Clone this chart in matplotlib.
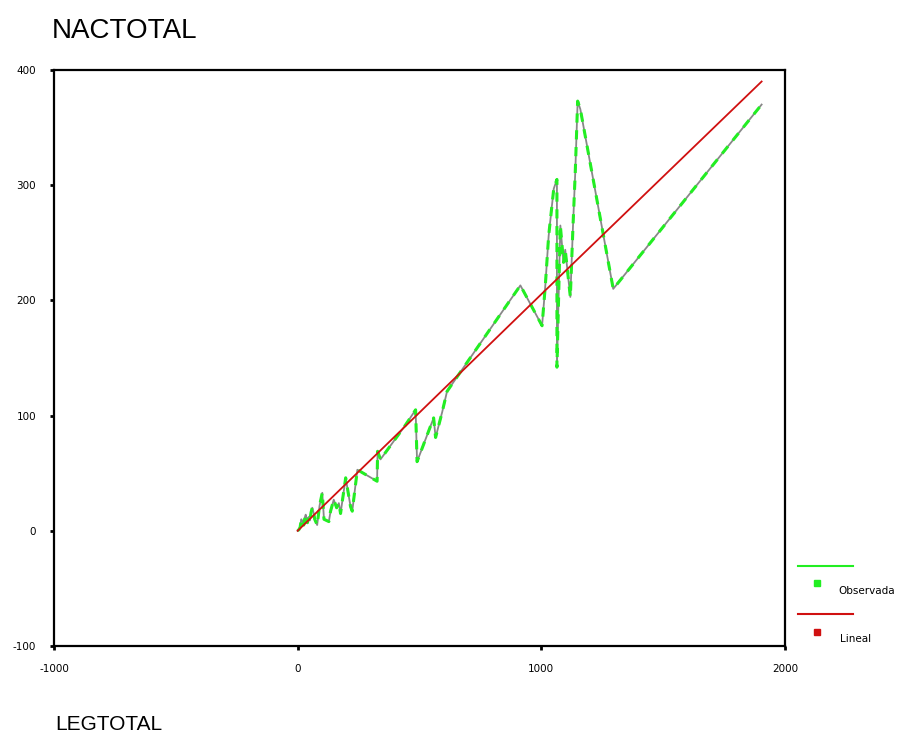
import numpy as np
import matplotlib.pyplot as plt
from matplotlib.lines import Line2D

obs_x = [0, 5, 10, 15, 20, 25, 30, 33, 40, 45, 50, 55, 60, 66, 70, 80, 90, 101, 108,
         128, 135, 148, 160, 169, 176, 197, 217, 224, 245, 326, 328, 340, 443, 484,
         490, 558, 566, 593, 613, 914, 1003, 1016, 1030, 1051, 1064, 1064, 1078,
         1091, 1098, 1119, 1130, 1139, 1149, 1160, 1295, 1904]
obs_y = [0, 1, 3, 10, 8, 5, 12, 14, 7, 12, 9, 16, 20, 15, 10, 5, 22, 33, 10,
         8, 17, 27, 20, 24, 15, 46, 21, 17, 53, 43, 69, 62, 92, 105,
         60, 98, 81, 103, 121, 213, 178, 212, 256, 297, 305, 142, 265,
         233, 244, 203, 265, 310, 373, 366, 210, 370]

# linear fit line
fit_x = [0, 1008, 1904]
fit_y = [0, 207, 390]

xticks = [-1000, 0, 1000, 2000]
yticks = [-100, 0, 100, 200, 300, 400]

plt.rcParams['font.family'] = ['Liberation Sans', 'DejaVu Sans']
plt.rcParams['axes.unicode_minus'] = False

fig = plt.figure(figsize=(9.09, 7.36), dpi=100)
ax = fig.add_axes([0.0594, 0.1223, 0.8042, 0.7826])

green = '#22ee22'
ax.plot(obs_x, obs_y, color='#888888', lw=1.3, zorder=2)
ax.plot(obs_x, obs_y, color=green, lw=2.2, dashes=(3, 2.5), zorder=3)
ax.plot(fit_x, fit_y, color='#d01010', lw=1.3, zorder=4)

ax.set_xlim(-1000, 2000)
ax.set_ylim(-100, 400)
ax.set_xticks(xticks)
ax.set_yticks(yticks)
ax.tick_params(length=3, width=2, direction='out')
ax.tick_params(axis='x', pad=10)
ax.tick_params(axis='y', pad=10)
for lab in ax.get_xticklabels() + ax.get_yticklabels():
    lab.set_family('DejaVu Sans')
    lab.set_fontsize(7.5)
for s in ax.spines.values():
    s.set_linewidth(1.6)

fig.text(52 / 909, 1 - 31 / 736, 'NACTOTAL', fontsize=20, va='center', ha='left')
fig.text(55 / 909, 1 - 724 / 736, 'LEGTOTAL', fontsize=15, va='center', ha='left')

# SPSS style legend on the right
fig.add_artist(Line2D([798 / 909, 853 / 909], [1 - 566 / 736] * 2, color=green, lw=1.5))
fig.add_artist(Line2D([817 / 909], [1 - 583 / 736], marker='s', ms=4, color=green, lw=0))
fig.text(838 / 909, 1 - 591 / 736, 'Observada', fontsize=7.5, va='center', family='DejaVu Sans')
fig.add_artist(Line2D([798 / 909, 853 / 909], [1 - 614 / 736] * 2, color='#d01010', lw=1.5))
fig.add_artist(Line2D([817 / 909], [1 - 632 / 736], marker='s', ms=4, color='#d01010', lw=0))
fig.text(840 / 909, 1 - 639 / 736, 'Lineal', fontsize=7.5, va='center', family='DejaVu Sans')

fig.savefig('out.png', dpi=100)
